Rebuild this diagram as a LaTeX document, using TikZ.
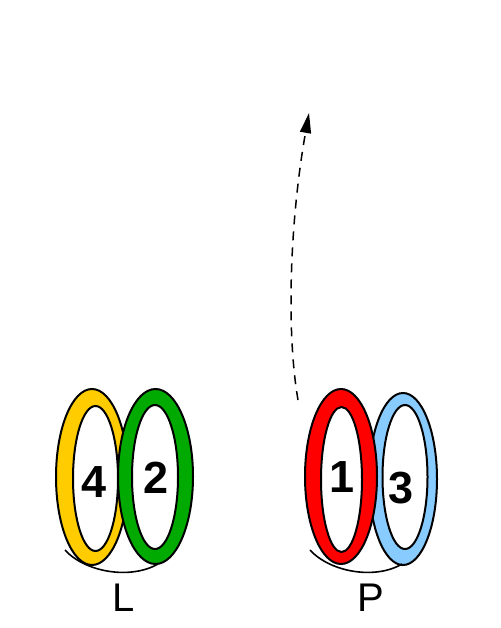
\documentclass[tikz,border=0pt]{standalone}
\usepackage{fontspec}
\setmainfont{Liberation Sans}
\usetikzlibrary{arrows.meta}
\definecolor{ringyellow}{RGB}{255,204,0}
\definecolor{ringgreen}{RGB}{0,170,0}
\definecolor{ringred}{RGB}{255,0,0}
\definecolor{ringblue}{RGB}{136,204,255}
\tikzset{
  ringline/.style={draw=black, line width=2pt},
  numlabel/.style={font=\fontsize{45}{45}\selectfont\bfseries, inner sep=0pt},
  grouplabel/.style={font=\fontsize{40}{40}\selectfont, inner sep=0pt},
  underarc/.style={draw=black, line width=1.6pt},
}
\newcommand{\myring}[9]{%
  % #1 colour, #2 #3 outer centre, #4 #5 outer radii, #6 #7 inner centre, #8 #9 inner radii
  \fill[#1, even odd rule] (#2,#3) ellipse [x radius=#4, y radius=#5] (#6,#7) ellipse [x radius=#8, y radius=#9];
  \draw[ringline] (#2,#3) ellipse [x radius=#4, y radius=#5];
  \draw[ringline] (#6,#7) ellipse [x radius=#8, y radius=#9];
}
\begin{document}
\begin{tikzpicture}[x=1pt, y=-1pt]
\useasboundingbox (0,0) rectangle (500,628);
% left group
\myring{ringyellow}{92}{477}{36}{88}{95.5}{478.5}{22.5}{72.5}
\myring{ringgreen}{155.5}{476.5}{37.5}{87.5}{155}{477}{23}{72}
\coordinate (la) at (65,550);
\coordinate (lb) at (158,564);
\draw[underarc] (la) .. controls (85,572) and (130,580) .. (lb);
% right group
\myring{ringblue}{403}{479}{34}{86}{405}{477}{22.5}{72}
\myring{ringred}{341}{476.5}{36}{87.5}{341.5}{479.5}{20.5}{72.5}
\coordinate (ra) at (310,550);
\coordinate (rb) at (402,564);
\draw[underarc] (ra) .. controls (330,572) and (375,580) .. (rb);
% labels
\node[numlabel] (n4) at (94,482) {4};
\node[numlabel] (n2) at (156,478) {2};
\node[numlabel] (n1) at (342,477) {1};
\node[numlabel] (n3) at (401,488) {3};
\node[grouplabel] (L) at (124,598) {L};
\node[grouplabel] (P) at (371,598) {P};
% dashed arrow
\coordinate (as) at (298,400);
\coordinate (ae) at (309,113);
\draw[line width=1.5pt, dash pattern=on 9pt off 7pt, -{Triangle[length=20pt,width=11pt]}] (as) .. controls (286,330) and (290,220) .. (ae);
\end{tikzpicture}
\end{document}
